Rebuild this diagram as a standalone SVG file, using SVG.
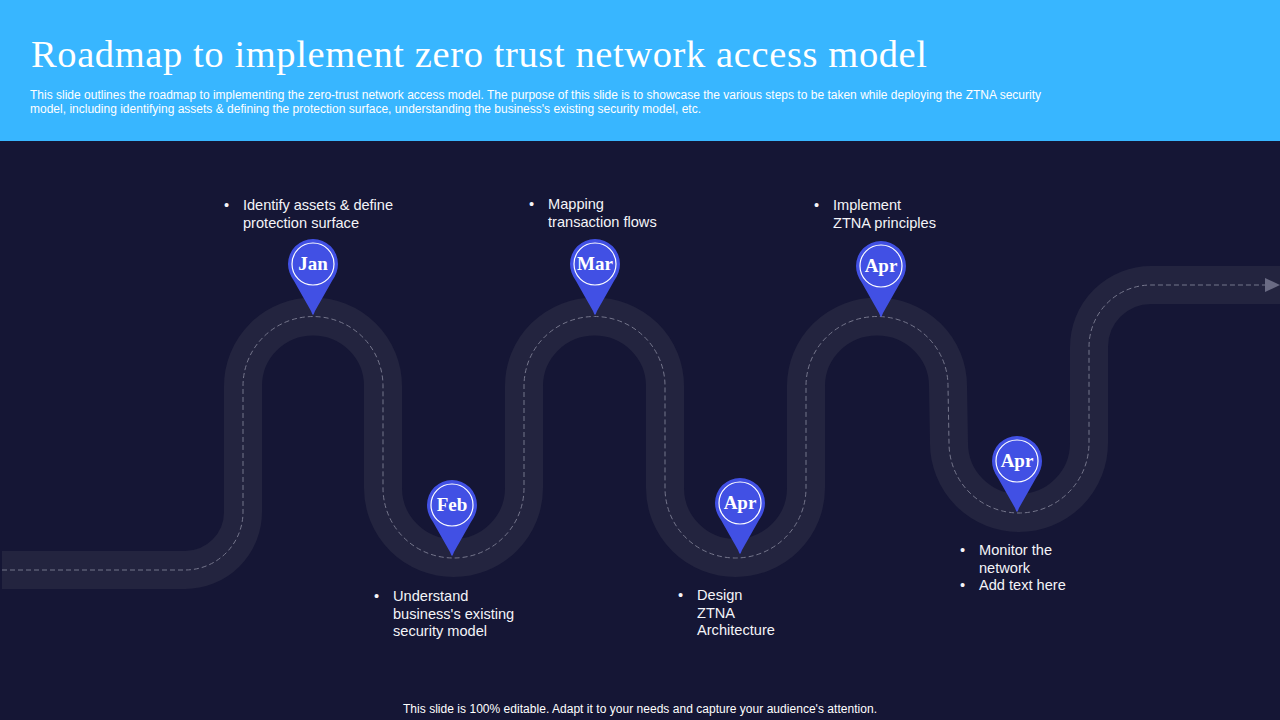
<svg xmlns="http://www.w3.org/2000/svg" width="1280" height="720" viewBox="0 0 1280 720">
<style>
.sans{font-family:"Liberation Sans",Arial,sans-serif}
.body{font-size:14.6px;fill:#f4f4f8}
.sub{font-size:12px;fill:#fff}
.month{font-family:"Liberation Serif","DejaVu Serif",serif;font-size:19px;font-weight:700;fill:#fff;text-anchor:middle}
.pin{fill:#4150e4}
.ring{fill:none;stroke:#fff;stroke-width:1.2}
</style>
<defs>
<g id="pinshape">
<path class="pin" d="M0 51Q-1 50-2 47L-19 17C-23 11-25 6-25 0A25 25 0 0 1 25 0C25 6 23 11 19 17L2 47Q1 50 0 51Z"/>
<circle class="ring" r="21"/>
</g>
</defs>
<rect width="1280" height="720" fill="#151635"/>
<rect width="1280" height="141" fill="#38b6ff"/>
<text x="31" y="67" font-family="'Liberation Serif',serif" font-size="38.500" fill="#fff" textLength="896" lengthAdjust="spacing">Roadmap to implement zero trust network access model</text>
<g class="sans sub">
<text x="30" y="99" textLength="1011" lengthAdjust="spacing">This slide outlines the roadmap to implementing the zero-trust network access model. The purpose of this slide is to showcase the various steps to be taken while deploying the ZTNA security</text>
<text x="30" y="113" textLength="671" lengthAdjust="spacing">model, including identifying assets &amp; defining the protection surface, understanding the business's existing security model, etc.</text>
</g>
<g id="connectors" fill="none">
<path id="road" d="M2 570H185A58 58 0 0 0 243 512V386A70 69.500 0 0 1 383 386V488A70.500 70 0 0 0 524 488V386A70.500 69.500 0 0 1 665 386V488A70.500 70 0 0 0 806 488V386A71 69.500 0 0 1 948 386L949 443A70 70 0 0 0 1089 443V347A62 62 0 0 1 1151 285H1280" stroke="#23243f" stroke-width="38"/>
<path d="M2 570H185A58 58 0 0 0 243 512V386A70 69.500 0 0 1 383 386V488A70.500 70 0 0 0 524 488V386A70.500 69.500 0 0 1 665 386V488A70.500 70 0 0 0 806 488V386A71 69.500 0 0 1 948 386L949 443A70 70 0 0 0 1089 443V347A62 62 0 0 1 1151 285H1266" stroke="#75768c" stroke-width="1" stroke-dasharray="5 3"/>
<polygon points="1265,278 1280,285 1265,292" fill="#6a6b84"/>
</g>
<g id="node-jan"><use href="#pinshape" x="313" y="264"/><text class="month" x="313" y="270">Jan</text>
<g class="sans body"><text x="224" y="210">•</text><text x="243" y="210" textLength="150" lengthAdjust="spacing">Identify assets &amp; define</text><text x="243" y="228">protection surface</text></g></g>
<g id="node-feb"><use href="#pinshape" x="452" y="505"/><text class="month" x="452" y="511">Feb</text>
<g class="sans body"><text x="374" y="601">•</text><text x="393" y="601">Understand</text><text x="393" y="619">business's existing</text><text x="393" y="636">security model</text></g></g>
<g id="node-mar"><use href="#pinshape" x="595" y="264"/><text class="month" x="595" y="270">Mar</text>
<g class="sans body"><text x="529" y="209">•</text><text x="548" y="209">Mapping</text><text x="548" y="227">transaction flows</text></g></g>
<g id="node-apr1"><use href="#pinshape" x="740" y="503"/><text class="month" x="740" y="509">Apr</text>
<g class="sans body"><text x="678" y="600">•</text><text x="697" y="600">Design</text><text x="697" y="618">ZTNA</text><text x="697" y="635">Architecture</text></g></g>
<g id="node-apr2"><use href="#pinshape" x="881" y="266"/><text class="month" x="881" y="272">Apr</text>
<g class="sans body"><text x="814" y="210">•</text><text x="833" y="210">Implement</text><text x="833" y="228">ZTNA principles</text></g></g>
<g id="node-apr3"><use href="#pinshape" x="1017" y="461"/><text class="month" x="1017" y="467">Apr</text>
<g class="sans body"><text x="960" y="555">•</text><text x="979" y="555">Monitor the</text><text x="979" y="573">network</text><text x="960" y="590">•</text><text x="979" y="590">Add text here</text></g></g>
<text class="sans sub" x="640" y="713" text-anchor="middle" textLength="474" lengthAdjust="spacing">This slide is 100% editable. Adapt it to your needs and capture your audience's attention.</text>
</svg>
